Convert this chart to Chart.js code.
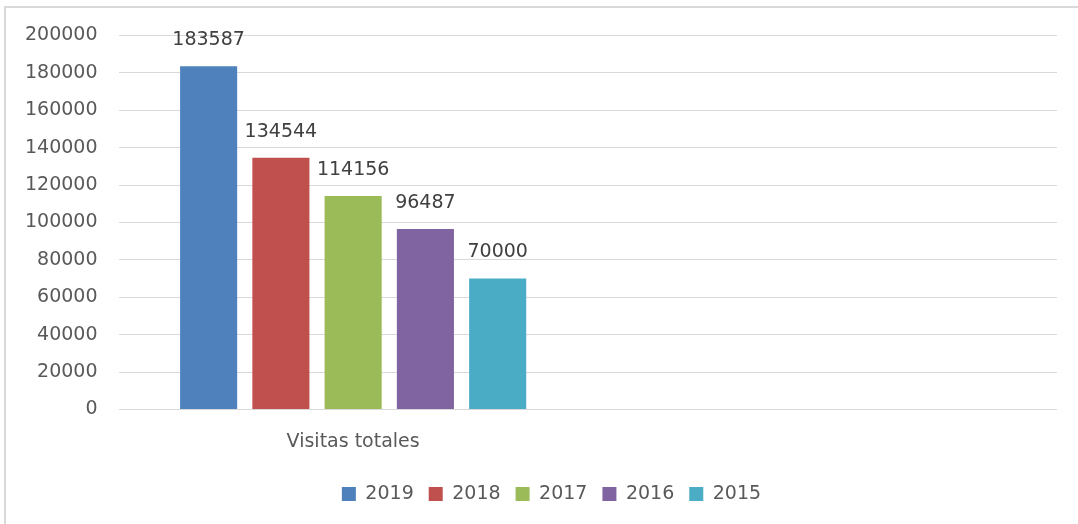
<!DOCTYPE html>
<html>
<head>
<meta charset="utf-8">
<script src="https://cdn.jsdelivr.net/npm/chart.js@4.4.1/dist/chart.umd.min.js"></script>
<style>
  html, body { margin: 0; padding: 0; background: #fff; overflow: hidden; }
  #wrap { position: relative; width: 1078px; height: 524px; }
  #frame {
    position: absolute; left: 4px; top: 6px; width: 1200px; height: 700px;
    border-top: 2px solid #d9d9d9; border-left: 2px solid #d9d9d9;
    pointer-events: none;
  }
  canvas { position: absolute; left: 0; top: 0; }
</style>
</head>
<body>
<div id="wrap">
  <canvas id="visitsChart" width="1078" height="524"></canvas>
  <div id="frame"></div>
</div>
<script>
const categories = ["Visitas totales", ""];
const years = ["2019", "2018", "2017", "2016", "2015"];
const visits = [183587, 134544, 114156, 96487, 70000];
const yMax = 200000;
const yStep = 20000;
const colors = ["#4F81BD", "#C0504D", "#9BBB59", "#8064A2", "#4BACC6"];

Chart.defaults.font.family = "'DejaVu Sans', sans-serif";
Chart.defaults.font.size = 19;
Chart.defaults.color = "#595959";

// value labels above each bar
const barValueLabels = {
  id: "barValueLabels",
  afterDatasetsDraw(chart) {
    const ctx = chart.ctx;
    ctx.save();
    ctx.font = "19px 'DejaVu Sans', sans-serif";
    ctx.fillStyle = "#404040";
    ctx.textAlign = "center";
    ctx.textBaseline = "middle";
    chart.data.datasets.forEach((ds, i) => {
      chart.getDatasetMeta(i).data.forEach((bar, j) => {
        const v = ds.data[j];
        if (v == null) return;
        ctx.fillText(String(v), bar.x, bar.y - 26);
      });
    });
    ctx.restore();
  }
};

// the original chart was wider than the crop, so its legend sits right of centre
const legendShift = {
  id: "legendShift",
  afterLayout(chart) {
    chart.legend.left += 21;
    chart.legend.right += 21;
  }
};

const datasets = years.map((year, i) => ({
  label: year,
  data: [visits[i]],
  backgroundColor: colors[i],
  borderColor: colors[i],
  borderWidth: 0
}));

new Chart(document.getElementById("visitsChart"), {
  type: "bar",
  data: { labels: categories, datasets: datasets },
  options: {
    responsive: false,
    animation: false,
    devicePixelRatio: 1,
    categoryPercentage: 0.77,
    barPercentage: 0.79,
    layout: { padding: { left: 4, right: 21, top: 35.5, bottom: 10.5 } },
    scales: {
      x: {
        grid: { display: false },
        border: { display: false },
        ticks: { padding: 13, color: "#595959" },
        title: { display: true, text: " ", padding: 0, font: { size: 10, lineHeight: 0.33 } }
      },
      y: {
        min: 0,
        max: yMax,
        grid: { color: "#d9d9d9", lineWidth: 1, drawTicks: false },
        border: { display: false },
        ticks: { stepSize: yStep, padding: 21, color: "#595959", callback: (v) => String(v) }
      }
    },
    plugins: {
      tooltip: { enabled: false },
      legend: {
        position: "bottom",
        labels: { boxWidth: 14, boxHeight: 14, padding: 15, color: "#595959" }
      }
    }
  },
  plugins: [barValueLabels, legendShift]
});
</script>
</body>
</html>
